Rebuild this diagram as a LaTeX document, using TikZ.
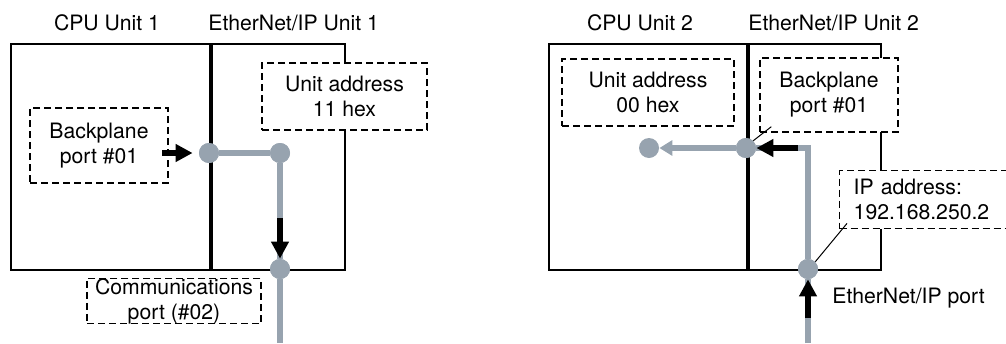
\documentclass[tikz,border=0pt]{standalone}
\usepackage{fontspec}
\setmainfont{TeX Gyre Heros}
\usepackage{xcolor}
\usetikzlibrary{arrows.meta,positioning}
\definecolor{portgray}{RGB}{151,163,175}
\tikzset{
	unit/.style={
		draw,
		line width=1pt,
		minimum height=113pt,
		inner sep=0pt
	},
	divider/.style={line width=1.6pt},
	addrbox/.style={
		draw,
		dash pattern=on 3.5pt off 2pt,
		line width=0.7pt,
		fill=white,
		align=center,
		inner sep=0pt
	},
	title/.style={anchor=base,inner sep=0pt},
	port/.style={circle,fill=portgray,minimum size=10pt,inner sep=0pt},
	link/.style={portgray,line width=2.6pt},
	flow/.style={line width=2.6pt,-{Triangle[length=8.5pt,width=8.5pt]}},
	leader/.style={line width=0.5pt}
}

\begin{document}
\begin{tikzpicture}[x=0.5pt,y=-0.5pt,font=\fontsize{10.6}{12.5}\selectfont]
		\useasboundingbox (0,0) rectangle (1006,343);

		% unit pair 1
		\node[unit,minimum width=99.5pt,anchor=north west] (cpu1) at (10,43) {};
		\node[unit,minimum width=66.5pt,anchor=north west] (eip1) at (cpu1.north east) {};
		\draw[divider] (cpu1.north east) -- (cpu1.south east);
		\node[title] (cpu1t) at (107,30) {CPU Unit 1};
		\node[title,anchor=base west] (eip1t) at (208,30) {EtherNet/IP Unit 1};

		\node[addrbox,minimum width=82.5pt,minimum height=33.5pt] (ua1) at (344.5,96.5) {Unit address\\11 hex};
		\node[addrbox,minimum width=69pt,minimum height=37.5pt] (bp1) at (99,145.5) {Backplane\\port \#01};
		\node[addrbox,minimum width=87pt,minimum height=22pt] (cp1) at (174,301) {Communications\\port (\#02)};

		\node[port] (p1a) at (209,153) {};
		\node[port] (p1b) at (280,153) {};
		\node[port] (p1c) at (280,269) {};
		\coordinate (net1) at (280,343);
		\coordinate (in1) at (162,153);
		\coordinate (down1) at (280,218);

		\draw[link] (p1a) -- (p1b) -- (p1c) -- (net1);
		\node[port] at (p1a) {};
		\node[port] at (p1b) {};
		\node[port] at (p1c) {};
		\draw[flow] (in1) -- ([xshift=-3pt]p1a.west);
		\draw[flow] (down1) -- (p1c.north);

		% unit pair 2
		\node[unit,minimum width=99pt,anchor=north west] (cpu2) at (548,43) {};
		\node[unit,minimum width=66pt,anchor=north west] (eip2) at (cpu2.north east) {};
		\node[title] (cpu2t) at (640,30) {CPU Unit 2};
		\node[title,anchor=base west] (eip2t) at (748,30) {EtherNet/IP Unit 2};

		\node[addrbox,minimum width=86pt,minimum height=33.5pt] (ua2) at (648,92.5) {Unit address\\00 hex};
		\node[addrbox,minimum width=69pt,minimum height=37pt] (bp2) at (829,95) {Backplane\\port \#01};
		\node[addrbox,align=left,anchor=north west,text width=79.5pt,inner xsep=7pt,minimum height=29pt] (ip2) at (839,170) {IP address:\\192.168.250.2};

		\node[port] (p2a) at (649,148) {};
		\node[port] (p2b) at (746,148) {};
		\node[port] (p2c) at (808,269) {};
		\coordinate (bend2) at (808,148);
		\coordinate (net2) at (808,343);
		\coordinate (up2) at (808,318);
		\coordinate (left2) at (798,148);

		\draw[link] (net2) -- (p2c) -- (bend2) -- (p2b);
		\draw[link,-{Triangle[length=6.5pt,width=7.5pt]}] (p2b) -- (p2a);
		\node[port] at (p2b) {};
		\node[port] at (p2c) {};
		\draw[flow] (left2) -- (p2b.east);
		\draw[flow] (up2) -- (p2c.south);

		\node[anchor=west,inner sep=0pt] (eipport) at (832,298) {EtherNet/IP port};

		\draw[leader] ([xshift=6pt,yshift=3pt]bp2.south west) -- (p2b.45);
		\draw[leader] ([xshift=4pt,yshift=3pt]ip2.south west) -- (p2c.45);
	\end{tikzpicture}
\end{document}
